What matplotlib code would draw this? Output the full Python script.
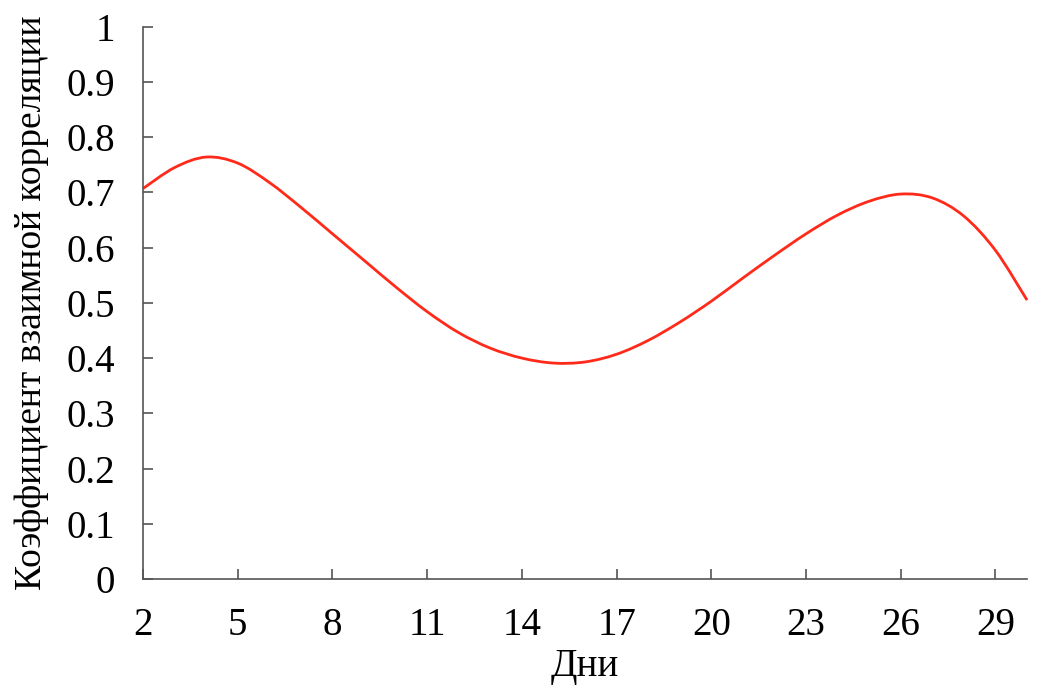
#import library
import matplotlib.pyplot as plt
import numpy as np
from matplotlib.path import Path
from matplotlib.patches import PathPatch

#define datasets
days = np.arange(2, 31)
corr = [0.707, 0.745, 0.764, 0.753, 0.718, 0.673, 0.625, 0.577, 0.529, 0.484,
        0.446, 0.418, 0.400, 0.391, 0.393, 0.407, 0.432, 0.465, 0.503, 0.545,
        0.586, 0.625, 0.659, 0.684, 0.697, 0.690, 0.657, 0.595, 0.505]

xticks = [2, 5, 8, 11, 14, 17, 20, 23, 26, 29]
yticks = [0, 0.1, 0.2, 0.3, 0.4, 0.5, 0.6, 0.7, 0.8, 0.9, 1]
ytick_labels = ["0", "0.1", "0.2", "0.3", "0.4", "0.5", "0.6", "0.7", "0.8", "0.9", "1"]

plt.rcParams['font.family'] = ['Liberation Serif', 'DejaVu Serif']

#define fig and plot size
fig = plt.figure(figsize=(10.48, 6.94), dpi=100)
ax = fig.add_axes([0.1365, 0.1657, 0.8435, 0.7958])

#smoothed curve (excel-style bezier through the points)
pts = np.column_stack([days, corr]).astype(float)
ext = np.vstack([pts[0], pts, pts[-1]])
verts = [tuple(pts[0])]
codes = [Path.MOVETO]
for i in range(len(pts) - 1):
    p0, p1, p2, p3 = ext[i], ext[i + 1], ext[i + 2], ext[i + 3]
    c1 = p1 + (p2 - p0) / 6.0
    c2 = p2 - (p3 - p1) / 6.0
    verts += [tuple(c1), tuple(c2), tuple(p2)]
    codes += [Path.CURVE4, Path.CURVE4, Path.CURVE4]
curve = PathPatch(Path(verts, codes), facecolor="none", edgecolor="#ff2a1a",
                  linewidth=2.0, capstyle="butt", clip_on=False)
ax.add_patch(curve)

#define limits and ticks
ax.set_xlim(2, 30)
ax.set_ylim(0, 1)
ax.set_xticks(xticks)
ax.set_yticks(yticks)
ax.set_yticklabels(ytick_labels)
ax.tick_params(direction="in", length=7, width=1.2, color="#555555",
               labelsize=28, pad=20)

#define spines
for side in ["top", "right"]:
    ax.spines[side].set_visible(False)
for side in ["left", "bottom"]:
    ax.spines[side].set_color("#555555")
    ax.spines[side].set_linewidth(1.2)

#define labels
ax.set_xlabel("Дни", fontsize=28, labelpad=3)
ax.set_ylabel("Коэффициент взаимной корреляции", fontsize=27, labelpad=13)

#save
fig.savefig("out.png", dpi=100)
